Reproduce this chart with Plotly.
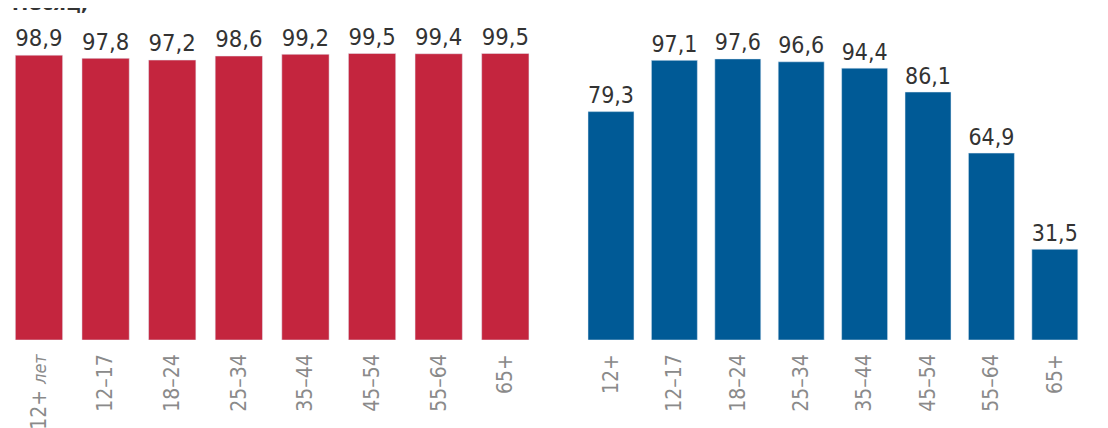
import plotly.graph_objects as go

left_categories = ["12+ <i><span style='font-size:18px'>лет</span></i>", "12–17", "18–24", "25–34", "35–44", "45–54", "55–64", "65+"]
left_values = [98.9, 97.8, 97.2, 98.6, 99.2, 99.5, 99.4, 99.5]
right_categories = ["12+", "12–17", "18–24", "25–34", "35–44", "45–54", "55–64", "65+"]
right_values = [79.3, 97.1, 97.6, 96.6, 94.4, 86.1, 64.9, 31.5]

RED = "#C4253E"
BLUE = "#005A96"
LABEL_FONT = dict(family="DejaVu Sans Condensed, DejaVu Sans", size=25, color="#333333")
TICK_FONT = dict(family="DejaVu Sans Condensed, DejaVu Sans", size=21, color="#8a8a8a")

def fmt(v):
    return f"{v:.1f}".replace(".", ",")

fig = go.Figure()
fig.add_trace(go.Bar(
    x=list(range(len(left_values))), y=left_values, marker_color=RED, width=0.71,
    text=[fmt(v) for v in left_values], textposition="outside", textfont=LABEL_FONT,
    cliponaxis=False, xaxis="x", yaxis="y", showlegend=False,
))
fig.add_trace(go.Bar(
    x=list(range(len(right_values))), y=right_values, marker_color=BLUE, width=0.725,
    text=[fmt(v) for v in right_values], textposition="outside", textfont=LABEL_FONT,
    cliponaxis=False, xaxis="x2", yaxis="y2", showlegend=False,
))

ydom = [0.2243, 0.8972]
xcommon = dict(tickangle=-90, tickfont=TICK_FONT, showgrid=False, zeroline=False,
               showline=False, ticks="", tickmode="array", ticklabelstandoff=9)
fig.update_layout(
    width=1108, height=428,
    margin=dict(l=0, r=0, t=0, b=0),
    paper_bgcolor="white", plot_bgcolor="white",
    uniformtext=dict(mode=False),
    xaxis=dict(domain=[0.0, 0.4789], range=[-0.465, 7.5], tickvals=list(range(8)),
               ticktext=left_categories, anchor="y", **xcommon),
    xaxis2=dict(domain=[0.5156, 0.9734], range=[-0.5, 7.5], tickvals=list(range(8)),
                ticktext=right_categories, anchor="y2", **xcommon),
    yaxis=dict(domain=ydom, range=[0, 100], visible=False),
    yaxis2=dict(domain=ydom, range=[0, 100], visible=False),
)
fig.add_annotation(text="<b>месяц,</b>", xref="paper", yref="paper", x=0.002, y=1,
                   xanchor="left", yanchor="middle", yshift=6, showarrow=False,
                   font=dict(family="DejaVu Sans Condensed, DejaVu Sans", size=22, color="#333333"))
fig.write_html("out.html")
